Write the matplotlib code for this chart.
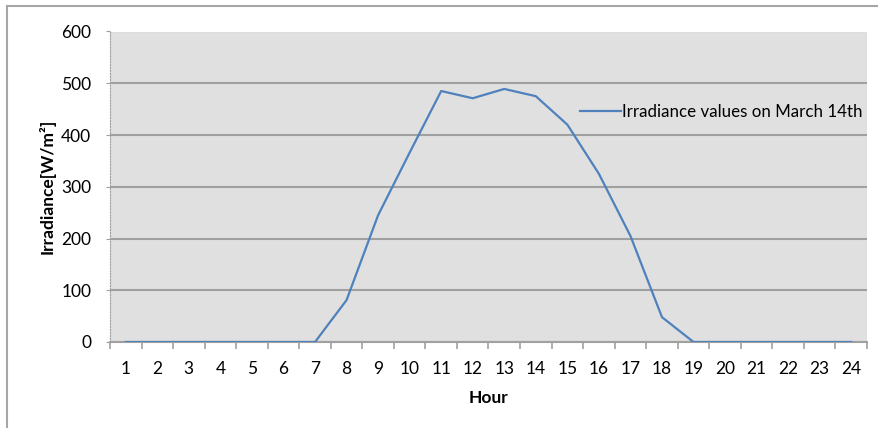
import matplotlib.pyplot as plt
from matplotlib.patches import Rectangle

# Irradiance over the day (March 14th)
hours = list(range(1, 25))
irradiance = [0, 0, 0, 0, 0, 0, 0, 81, 245, 366, 485, 471, 489, 475,
              420, 325, 205, 48, 0, 0, 0, 0, 0, 0]
y_ticks = [0, 100, 200, 300, 400, 500, 600]

plt.rcParams['font.family'] = ['Lato', 'DejaVu Sans']
FS = 12.5

fig = plt.figure(figsize=(8.79, 4.28), dpi=100)
ax = fig.add_axes([110 / 879, 1 - 342 / 428, 757 / 879, 310.5 / 428])

# chart border (only the top and left edges are inside the picture)
fig.patches.append(Rectangle((7 / 879, -0.1), 1.2, 1 - 6 / 428 + 0.1,
                             transform=fig.transFigure, fill=False,
                             edgecolor='#a6a6a6', linewidth=1.5))

ax.set_facecolor('#e0e0e0')
line, = ax.plot(hours, irradiance, color='#4f81bd', linewidth=1.6, zorder=3)

ax.set_xlim(0.5, 24.5)
ax.set_ylim(0, 600)
ax.set_yticks(y_ticks)
ax.set_xticks(hours)
ax.set_xticks([h + 0.5 for h in range(0, 25)], minor=True)
ax.tick_params(axis='x', which='major', length=0, pad=14, labelsize=FS)
ax.tick_params(axis='x', which='minor', length=5, color='#a0a0a0', width=1.2)
ax.tick_params(axis='y', length=3, color='#a0a0a0', pad=10.5, labelsize=FS)

ax.grid(axis='y', color='#a0a0a0', linewidth=1.5)
ax.set_axisbelow(True)
for s in ['top', 'right']:
    ax.spines[s].set_visible(False)
ax.spines['left'].set_color('#a0a0a0')
ax.spines['left'].set_linestyle(':')
ax.spines['bottom'].set_color('#a0a0a0')
ax.spines['bottom'].set_linewidth(1.5)

ax.set_xlabel('Hour', fontweight='bold', fontsize=FS, labelpad=9)
ax.set_ylabel('Irradiance[W/m²]', fontweight='bold', fontsize=FS, labelpad=4)

fig.legend([line], ['Irradiance values on March 14th'], loc='center left',
           bbox_to_anchor=(580 / 879, 1 - 112 / 428), frameon=False,
           fontsize=12.2, handlelength=2.4, handletextpad=0.1, borderaxespad=0,
           borderpad=0)

fig.savefig('out.png', dpi=100)
